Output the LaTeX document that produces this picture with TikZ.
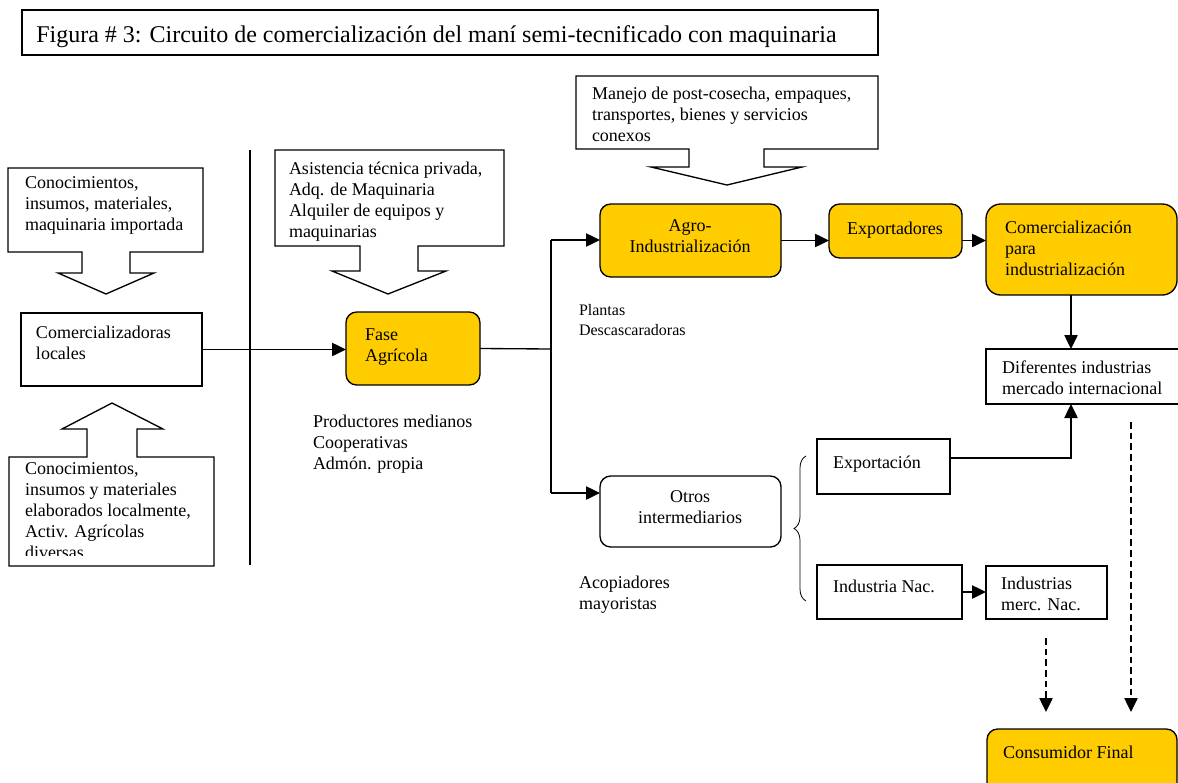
\documentclass[tikz,border=0pt]{standalone}
\usepackage{fontspec}
\setmainfont{Liberation Serif}
\usetikzlibrary{arrows.meta,fit,decorations.pathreplacing}
\definecolor{amar}{HTML}{FFCC00}
\begin{document}
\begin{tikzpicture}[x=0.75pt,y=-0.75pt,
  box/.style={draw,line width=1pt,inner sep=0pt,outer sep=0pt},
  ybox/.style={box,fill=amar,rounded corners=8pt},
  wrbox/.style={box,fill=white,rounded corners=8pt},
  txt/.style={inner sep=0pt,outer sep=0pt,align=left,anchor=north west,yshift=-3pt,font=\fontsize{13.5}{15.75}\selectfont,execute at begin node=\strut},
  ctxt/.style={txt,align=center,anchor=north},
  arr/.style={line width=1pt,-{Triangle[length=10.5pt,width=10pt]}},
  darr/.style={arr,dash pattern=on 5pt off 3pt},
  ln/.style={line width=1pt},
  call/.style={draw,line width=1pt,fill=white,line join=miter}
]
\useasboundingbox (0,0) rectangle (1178,782);

% title
\node[box,fit={(22,10) (878,55)}] (titlebox) {};
\node[inner sep=0pt,anchor=base west,font=\fontsize{18}{21}\selectfont] (title) at (36,42) {Figura \# 3: Circuito de comercializaci\'on del man\'i semi-tecnificado con maquinaria};

% callouts
\draw[call] (8,168) -- (203,168) -- (203,252) -- (130,252) -- (130,273) -- (154,273) -- (106,294) -- (58,273) -- (82,273) -- (82,252) -- (8,252) -- cycle;
\node[txt] (t1) at (25,172.5) {Conocimientos,\\insumos, materiales,\\maquinaria importada};

\draw[call] (275,150) -- (504,150) -- (504,246) -- (418,246) -- (418,271) -- (446,271) -- (388,294) -- (332,271) -- (360,271) -- (360,246) -- (275,246) -- cycle;
\node[txt] (t2) at (289,157.5) {Asistencia t\'ecnica privada,\\Adq. de Maquinaria\\Alquiler de equipos y\\maquinarias};

\draw[call] (576,76) -- (878,76) -- (878,149) -- (764,149) -- (764,167) -- (802,167) -- (727,185) -- (651,167) -- (689,167) -- (689,149) -- (576,149) -- cycle;
\node[txt] (t3) at (592,83.5) {Manejo de post-cosecha, empaques,\\transportes, bienes y servicios\\conexos};

\draw[call] (9,566) -- (9,457) -- (87,457) -- (87,429) -- (62,429) -- (112,403) -- (163,429) -- (137,429) -- (137,457) -- (214,457) -- (214,566) -- cycle;
\begin{scope}
\clip (9,457) rectangle (214,555);
\node[txt] (t4) at (25,458.5) {Conocimientos,\\insumos y materiales\\elaborados localmente,\\Activ. Agr\'icolas\\diversas};
\end{scope}

% separator
\coordinate (v1) at (250,150);
\coordinate (v2) at (250,565);
\draw[ln] (v1) -- (v2);

% boxes
\node[box,fit={(21,313) (202,386)}] (comerc) {};
\node[txt] at (36,322.5) {Comercializadoras\\locales};

\node[ybox,fit={(346,312) (480,385)}] (fase) {};
\node[txt] at (365,324.5) {Fase\\Agr\'icola};

\node[txt] (prod) at (313,411.5) {Productores medianos\\Cooperativas\\Adm\'on. propia};

\node[ybox,fit={(600,204) (781,277)}] (agro) {};
\node[ctxt] at (690,215.5) {Agro-\\Industrializaci\'on};

\node[txt,font=\fontsize{12}{15}\selectfont] (plantas) at (579,300.6) {Plantas\\Descascaradoras};

\node[ybox,fit={(829,204) (962,258)}] (expo) {};
\node[txt] at (847,215.5) {Exportadores};

\node[ybox,rounded corners=11pt,fit={(986,204) (1177,295)}] (com) {};
\node[txt] at (1005,216.5) {Comercializaci\'on\\para\\industrializaci\'on};

\node[box,fill=white,fit={(986,349) (1200,404)}] (dif) {};
\node[txt] at (1002,356.5) {Diferentes industrias\\mercado internacional};

\node[wrbox,fit={(600,476) (781,547)}] (otros) {};
\node[ctxt] at (690,486.5) {Otros\\intermediarios};

\node[txt] (acop) at (579,572.5) {Acopiadores\\mayoristas};

\node[box,fit={(817,439) (950,494)}] (export) {};
\node[txt] at (833,449.5) {Exportaci\'on};

\node[box,fit={(817,565) (962,619)}] (indnac) {};
\node[txt] at (833,573.5) {Industria Nac.};

\node[box,fit={(986,566) (1107,619)}] (indmerc) {};
\node[txt] at (1001,573.5) {Industrias\\merc. Nac.};

\node[ybox,fit={(987,729) (1177,800)}] (cons) {};
\node[txt] at (1003,739.5) {Consumidor Final};

% brace
\coordinate (b1) at (806,601);
\coordinate (b2) at (806,456);
\draw[decorate,decoration={brace,amplitude=9pt},line width=0.6pt] (b1) -- (b2);

% connectors
\draw[arr] (comerc.east) -- (comerc.east -| fase.west);
\coordinate (j) at (551,349);
\coordinate (jt) at (551,240);
\coordinate (jb) at (551,493);
\draw[ln] (fase.east) -- (j);
\draw[ln] (jt) -- (jb);
\draw[arr] (jt) -- (jt -| agro.west);
\draw[arr] (jb) -- (jb -| otros.west);
\draw[arr] (agro.east) -- (agro.east -| expo.west);
\draw[arr] (agro.east -| expo.east) -- (agro.east -| com.west);
\coordinate (cx) at (1071,458);
\draw[arr] (com.south -| cx) -- (dif.north -| cx);
\draw[arr] (export.east |- cx) -- (cx) -- (dif.south -| cx);
\draw[arr] (indnac.east) -- (indnac.east -| indmerc.west);
\coordinate (d1) at (1131,422);
\coordinate (d2) at (1046,638);
\draw[darr] (d1) -- (d1 |- 0,712);
\draw[darr] (d2) -- (d2 |- 0,712);
\end{tikzpicture}
\end{document}
